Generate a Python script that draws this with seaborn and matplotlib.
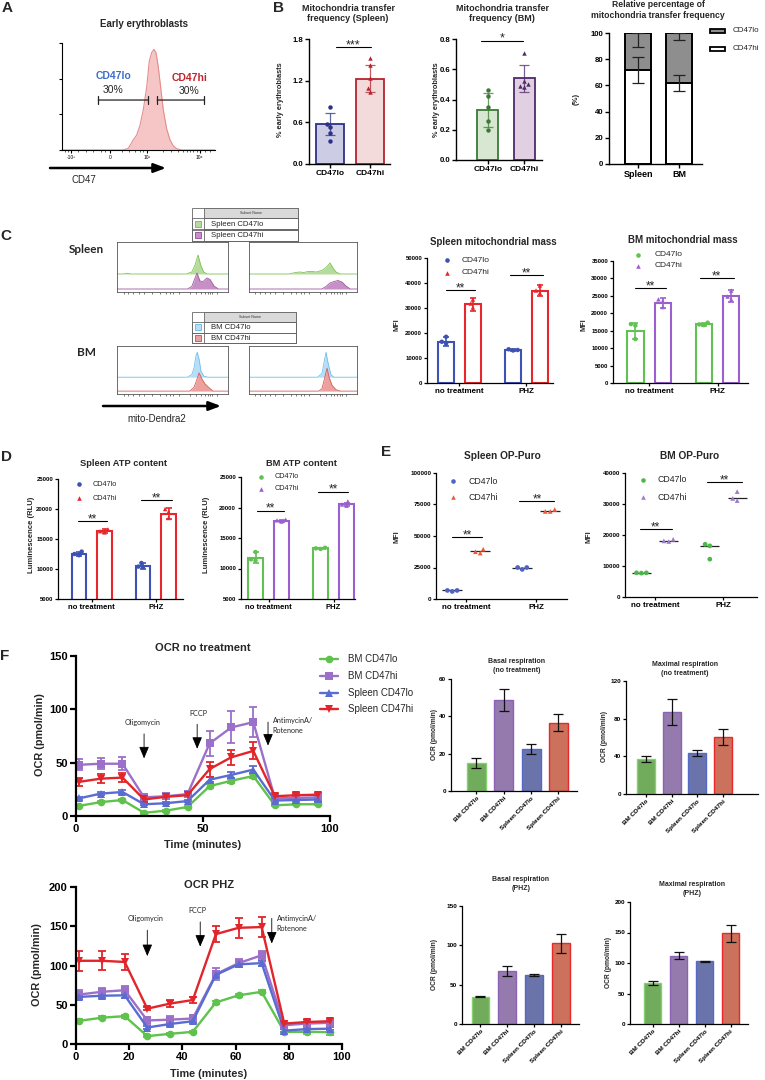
import numpy as np
import pandas as pd
import matplotlib
matplotlib.use("Agg")
import matplotlib.pyplot as plt
import seaborn as sns
from matplotlib.lines import Line2D
from matplotlib.patches import Rectangle

# ---------------- data ----------------
# A: CD47 histogram, flow channel (0-1024) vs % of max
a_chan = [0, 410, 444, 477, 500, 522, 544, 567, 584, 600, 615, 629, 644, 660, 678, 700, 723, 745, 767, 801, 1024]
a_dens = [0, 0, 1.6, 9.4, 14, 23, 37.5, 59, 83, 91, 94, 91, 78, 59, 37.5, 20, 9.4, 3.8, 1.2, 0, 0]
a_ticks = [60, 321, 569, 923]
a_tick_labels = ["-10³", "0", "10³", "10⁴"]

# B: mitochondria transfer frequency
levels = ["CD47lo", "CD47hi"]
b_sp_mean = [0.58, 1.23]
b_sp_sd = [0.16, 0.20]
b_sp_lo_pts = [0.82, 0.58, 0.53, 0.44, 0.33]
b_sp_hi_pts = [1.52, 1.42, 1.24, 1.10, 1.04]
b_bm_mean = [0.33, 0.54]
b_bm_sd = [0.11, 0.09]
b_bm_lo_pts = [0.46, 0.42, 0.35, 0.26, 0.20]
b_bm_hi_pts = [0.71, 0.52, 0.50, 0.49, 0.48]
b_tissues = ["Spleen", "BM"]
b_rel_hi = [72, 62]
b_rel_lo = [28, 38]
b_rel_hi_sd = [10, 6]
b_rel_lo_sd = [11, 5]

# C: mito-Dendra2 overlays (channel, fraction of box height above baseline)
sp_ch_lo_l = [0, 60, 90, 130, 640, 690, 720, 747, 775, 800, 830, 1024]
sp_d_lo_l = [0, 0, 0.015, 0, 0, 0.04, 0.18, 0.38, 0.16, 0.04, 0, 0]
sp_ch_hi_l = [0, 650, 690, 720, 738, 765, 793, 830, 858, 895, 935, 1024]
sp_d_hi_l = [0, 0, 0.05, 0.22, 0.32, 0.16, 0.15, 0.22, 0.19, 0.06, 0, 0]
sp_ch_lo_r = [0, 380, 440, 480, 520, 560, 600, 640, 700, 740, 768, 796, 825, 865, 1024]
sp_d_lo_r = [0, 0, 0.03, 0.04, 0.03, 0.05, 0.05, 0.04, 0.08, 0.15, 0.22, 0.12, 0.04, 0, 0]
sp_ch_hi_r = [0, 690, 730, 768, 806, 844, 882, 920, 960, 1024]
sp_d_hi_r = [0, 0, 0.05, 0.12, 0.15, 0.17, 0.14, 0.06, 0, 0]
bm_ch_lo_l = [0, 650, 692, 711, 729, 740, 757, 775, 803, 840, 1024]
bm_d_lo_l = [0, 0, 0.06, 0.2, 0.45, 0.52, 0.38, 0.12, 0.02, 0, 0]
bm_ch_hi_l = [0, 670, 711, 738, 757, 784, 812, 849, 886, 1024]
bm_d_hi_l = [0, 0, 0.08, 0.25, 0.38, 0.25, 0.15, 0.07, 0, 0]
bm_ch_lo_r = [0, 650, 692, 711, 730, 749, 777, 806, 1024]
bm_d_lo_r = [0, 0, 0.08, 0.3, 0.52, 0.3, 0.05, 0, 0]
bm_ch_hi_r = [0, 660, 692, 720, 740, 758, 787, 825, 865, 1024]
bm_d_hi_r = [0, 0, 0.05, 0.3, 0.48, 0.3, 0.12, 0.03, 0, 0]

treatments = ["no treatment", "PHZ"]
# C: mitochondrial mass (MFI)
c_sp_lo_mean = [16500, 13200]
c_sp_lo_sd = [1800, 400]
c_sp_lo_pts = [[18500, 16500, 15800], [13500, 13200, 13000]]
c_sp_hi_mean = [31500, 37000]
c_sp_hi_sd = [2500, 2200]
c_sp_hi_pts = [[33400, 31800, 30200], [39000, 37000, 36000]]
c_bm_lo_mean = [14800, 16800]
c_bm_lo_sd = [2300, 500]
c_bm_lo_pts = [[16900, 16500, 12600], [17300, 16800, 16600]]
c_bm_hi_mean = [23000, 25000]
c_bm_hi_sd = [1500, 1800]
c_bm_hi_pts = [[24000, 23500, 21800], [26500, 24800, 24000]]

# D: ATP content (RLU)
d_sp_lo_mean = [12500, 10500]
d_sp_lo_sd = [400, 500]
d_sp_lo_pts = [[12900, 12500, 12300], [11000, 10400, 10300]]
d_sp_hi_mean = [16300, 19200]
d_sp_hi_sd = [300, 900]
d_sp_hi_pts = [[16600, 16300, 16100], [20000, 19500, 18500]]
d_bm_lo_mean = [11800, 13300]
d_bm_lo_sd = [900, 100]
d_bm_lo_pts = [[12700, 11500, 11300], [13400, 13300, 13200]]
d_bm_hi_mean = [17800, 20500]
d_bm_hi_sd = [200, 300]
d_bm_hi_pts = [[18000, 17900, 17700], [21000, 20500, 20300]]

# E: OP-Puro (MFI)
e_sp_lo_pts = [[6000, 6800, 6800], [23500, 25000, 25000]]
e_sp_hi_pts = [[36500, 39500, 37500], [69500, 71000, 69500]]
e_sp_lo_med = [6800, 25000]
e_sp_hi_med = [37700, 69800]
e_bm_lo_pts = [[7700, 7800, 7800], [17000, 12200, 16500]]
e_bm_hi_pts = [[17900, 18600, 18100], [31100, 34000, 31800]]
e_bm_lo_med = [7800, 16500]
e_bm_hi_med = [18100, 31800]

# F: Seahorse OCR
f_groups = ["BM CD47lo", "BM CD47hi", "Spleen CD47lo", "Spleen CD47hi"]
f_time = [1.2, 9.7, 18.3, 26.8, 35.4, 43.9, 52.6, 61.1, 69.8, 78.3, 86.8, 95.4]
nt_bm_lo = [9.5, 13, 15, 3, 5, 8.5, 28, 33, 37.5, 10, 11, 11]
nt_bm_lo_err = [1, 1, 1, 1, 1, 1, 2, 2, 2, 1, 1, 1]
nt_bm_hi = [48, 49, 49, 17.5, 18.5, 20.5, 68, 83, 88, 16.5, 17, 17.5]
nt_bm_hi_err = [5, 5, 6, 3, 3, 3, 12, 15, 14, 3, 3, 3]
nt_sp_lo = [16.5, 21, 22.5, 11, 12, 14, 34, 38.5, 43.5, 14.5, 15, 15.5]
nt_sp_lo_err = [1.5, 1.5, 1.5, 1, 1, 1, 2.5, 3, 3, 1, 1, 1]
nt_sp_hi = [32, 35, 36, 15.5, 18, 19.5, 44, 55, 61, 18.5, 19.5, 20]
nt_sp_hi_err = [4, 4, 4, 2, 2, 2, 7, 7, 8, 2, 2, 2]
phz_bm_lo = [29.5, 33.5, 35.5, 10, 13, 15.5, 53, 62, 66.5, 15.5, 15.5, 15]
phz_bm_lo_err = [2, 2, 2, 1, 1, 1, 2, 2, 2, 3, 3, 3]
phz_bm_hi = [63, 66.5, 68.5, 30, 31, 32.5, 89, 103, 113, 24, 26, 27]
phz_bm_hi_err = [6, 5, 5, 5, 5, 5, 8, 5, 6, 4, 4, 4]
phz_sp_lo = [60, 61.5, 62, 21, 25.5, 29, 88, 101.5, 103, 17, 19, 19.5]
phz_sp_lo_err = [3, 3, 3, 2, 2, 2, 3, 3, 3, 2, 2, 2]
phz_sp_hi = [106, 106, 104.5, 45, 51.5, 56, 140, 148, 149, 26, 28, 29]
phz_sp_hi_err = [13, 12, 10, 2, 4, 4, 10, 13, 13, 3, 3, 3]

basal_nt = [15, 48.8, 22.5, 36.5]
basal_nt_sd = [2.5, 6, 2.5, 4.5]
max_nt = [37, 87, 43.5, 60.5]
max_nt_sd = [3, 14, 3.5, 8]
basal_phz = [34.7, 67.5, 62.5, 102.5]
basal_phz_sd = [1, 6, 1, 12]
max_phz = [66.7, 112, 103, 148.6]
max_phz_sd = [3, 6, 1, 13.5]

# ---------------- style ----------------
sns.set_theme(style="ticks")
plt.rcParams["font.family"] = ["Liberation Sans", "DejaVu Sans"]
plt.rcParams["axes.edgecolor"] = "black"

W, H = 765, 1080
fig = plt.figure(figsize=(W / 100, H / 100), dpi=100)


def box(l, t, r, b):
    return fig.add_axes([l / W, 1 - b / H, (r - l) / W, (b - t) / H])


def ftext(x, y, s, **kw):
    kw.setdefault("ha", "center")
    kw.setdefault("va", "center")
    return fig.text(x / W, 1 - y / H, s, **kw)


def frect(x, y, w, h, **kw):
    fig.add_artist(Rectangle((x / W, 1 - (y + h) / H), w / W, h / H, transform=fig.transFigure, **kw))


def fmark(x, y, **kw):
    fig.add_artist(Line2D([x / W], [1 - y / H], ls="none", transform=fig.transFigure, **kw))


def prism(ax, lw=0.8, ysize=4.3, xsize=4.3, tlen=2.5):
    sns.despine(ax=ax)
    ax.spines[["left", "bottom"]].set_linewidth(lw)
    ax.spines[["left", "bottom"]].set_color("black")
    ax.tick_params(width=lw, length=tlen, pad=1, colors="black")
    ax.tick_params(axis="y", labelsize=ysize)
    ax.tick_params(axis="x", labelsize=xsize)
    plt.setp(ax.get_xticklabels() + ax.get_yticklabels(), fontweight="bold")
    ax.set_xlabel("")
    ax.set_ylabel("")


def sig(ax, x0, x1, y, s="**", fs=8.5):
    ax.plot([x0, x1], [y, y], color="black", lw=0.8, clip_on=False)
    ax.annotate(s, ((x0 + x1) / 2, y), xytext=(0, -0.8), textcoords="offset points",
                ha="center", va="baseline", fontsize=fs, annotation_clip=False)


def fig_arrow(x0, x1, y):
    fig.axes[0].annotate("", xy=(x1, H - y), xytext=(x0, H - y), xycoords="figure pixels",
                         arrowprops=dict(arrowstyle="-|>,head_width=0.3,head_length=0.8", lw=1.8,
                                         color="black", shrinkA=0, shrinkB=0, mutation_scale=9),
                         annotation_clip=False)


def points_frame(lo_pts, hi_pts):
    rows = []
    for lev, pts in zip(levels, [lo_pts, hi_pts]):
        for cond, vals in zip(treatments, pts):
            rows += [(cond, lev, v) for v in vals]
    return pd.DataFrame(rows, columns=["cond", "grp", "val"])


# ---------------- panel letters ----------------
for lab, x, y in [("A", 7, 8), ("B", 278, 8), ("C", 6, 236), ("D", 6, 457), ("E", 386, 452), ("F", 5, 656)]:
    ftext(x, y, lab, fontsize=11, fontweight="bold")

# ---------------- A ----------------
ax = box(62, 43, 215, 150)
ax.fill_between(a_chan, a_dens, color="#f6c6c6", lw=0)
sns.lineplot(x=a_chan, y=a_dens, color="#e38d8d", lw=0.8, ax=ax)
ax.set_xlim(0, 1024)
ax.set_ylim(0, 100)
ax.set_yticks([0, 33.3, 66.7, 100], [])
ax.set_xticks(a_ticks, a_tick_labels)
ax.set_xticks([20, 40, 110, 160, 210, 260, 290, 400, 450, 490, 520, 545,
               675, 731, 775, 809, 837, 859, 879, 905, 960, 990], minor=True)
prism(ax, lw=0.8, xsize=3.5, tlen=2.5)
plt.setp(ax.get_xticklabels(), fontweight="normal")
ax.tick_params(axis="x", which="minor", length=1.2, width=0.5)
for x0, x1 in [(243, 577), (637, 950)]:
    ax.annotate("", xy=(x1, 46.7), xytext=(x0, 46.7),
                arrowprops=dict(arrowstyle="|-|,widthA=0.25,widthB=0.25", lw=0.9, color="#222",
                                shrinkA=0, shrinkB=0))
ax.text(343, 69, "CD47lo", color="#3f6fc6", fontsize=7.5, fontweight="bold", ha="center", va="center")
ax.text(339, 56.5, "30%", fontsize=7.5, ha="center", va="center")
ax.text(852, 67, "CD47hi", color="#c0262e", fontsize=7.5, fontweight="bold", ha="center", va="center")
ax.text(852, 55, "30%", fontsize=7.5, ha="center", va="center")
ftext(144, 24, "Early erythroblasts", fontsize=7, fontweight="bold")
fig_arrow(50, 166, 168)
ftext(84, 180, "CD47", fontsize=7)


# ---------------- B ----------------
def freq_panel(l, t, r, b, xlim, width, mean, sd, lo_pts, hi_pts, fills, edges, ylim, yticks):
    ax = box(l, t, r, b)
    sns.barplot(x=levels, y=mean, hue=levels, palette=fills, width=width, errorbar=None,
                legend=False, linewidth=1.3, ax=ax)
    for p, ec in zip(ax.patches, edges):
        p.set_edgecolor(ec)
    for i in range(2):
        ax.errorbar(i, mean[i], yerr=sd[i], fmt="none", ecolor=edges[i], alpha=0.75,
                    elinewidth=0.9, capsize=3.5, capthick=0.9)
    pts = pd.DataFrame({"grp": ["CD47lo"] * len(lo_pts) + ["CD47hi"] * len(hi_pts), "val": lo_pts + hi_pts})
    for lev, mk, col in zip(levels, ["o", "^"], edges):
        sns.swarmplot(data=pts[pts.grp == lev], x="grp", y="val", order=levels, color=col,
                      marker=mk, size=3.2, linewidth=0, ax=ax)
    ax.set_xlim(xlim)
    ax.set_ylim(ylim)
    ax.set_yticks(yticks, [f"{v:.1f}" for v in yticks])
    prism(ax, lw=1.0, ysize=5.6, xsize=6, tlen=3)
    return ax


ax = freq_panel(309, 39, 390, 164, (-0.525, 1.5), 0.7, b_sp_mean, b_sp_sd, b_sp_lo_pts, b_sp_hi_pts,
                ["#c8c9e8", "#f8d7d7"], ["#2d3187", "#b3242f"], (0, 1.8), [0, 0.6, 1.2, 1.8])
sig(ax, 0.15, 1.02, 1.68, "***", fs=9)
ftext(348, 13.5, "Mitochondria transfer\nfrequency (Spleen)", fontsize=6.5, fontweight="bold", linespacing=1.2)
ftext(280, 100, "% early erythroblasts", rotation=90, fontsize=5.3, fontweight="bold")

ax = freq_panel(456, 39, 542, 160, (-0.88, 1.49), 0.58, b_bm_mean, b_bm_sd, b_bm_lo_pts, b_bm_hi_pts,
                ["#d5ebcd", "#e3cde4"], ["#3c7a34", "#4f2a6c"], (0, 0.8), [0, 0.2, 0.4, 0.6, 0.8])
sig(ax, -0.2, 0.97, 0.79, "*", fs=9)
ftext(502, 13.5, "Mitochondria transfer\nfrequency (BM)", fontsize=6.5, fontweight="bold", linespacing=1.2)
ftext(436, 100, "% early erythroblasts", rotation=90, fontsize=5.3, fontweight="bold")

ax = box(609, 33, 702, 164)
sns.barplot(x=b_tissues, y=[h + l for h, l in zip(b_rel_hi, b_rel_lo)], color="#8e8e8e", width=0.63,
            edgecolor="black", linewidth=1.4, errorbar=None, ax=ax)
sns.barplot(x=b_tissues, y=b_rel_hi, color="white", width=0.63, edgecolor="black", linewidth=1.4,
            errorbar=None, ax=ax)
for i in range(2):
    ax.errorbar(i, b_rel_hi[i], yerr=b_rel_hi_sd[i], fmt="none", ecolor="#222", elinewidth=0.9,
                capsize=4.5, capthick=0.9)
    ax.errorbar(i, b_rel_hi[i] + b_rel_lo[i], yerr=[[b_rel_lo_sd[i]], [0]], fmt="none", ecolor="#222",
                elinewidth=0.9, capsize=4.5, capthick=0.9)
ax.set_xlim(-0.71, 1.56)
ax.set_ylim(0, 100)
ax.set_yticks([0, 20, 40, 60, 80, 100], ["0", "20", "40", "60", "80", "100"])
prism(ax, lw=1.0, ysize=5.6, xsize=6.5, tlen=3)
ftext(658, 10, "Relative percentage of\nmitochondria transfer frequency", fontsize=6.2, fontweight="bold",
      linespacing=1.25)
ftext(576, 99, "(%)", rotation=90, fontsize=5.5, fontweight="bold")
frect(710, 29, 15, 4, fc="#8e8e8e", ec="black", lw=1.3)
frect(710, 47, 15, 4, fc="white", ec="black", lw=1.3)
ftext(733, 31, "CD47lo", ha="left", fontsize=5.8)
ftext(733, 49, "CD47hi", ha="left", fontsize=5.8)


# ---------------- C: flow overlays ----------------
def flow_box(l, t, r, b, top, bot, base_top, top_cols, bot_cols):
    ax = box(l, t, r, b)
    for (ch, d), base, (fc, ec) in [(top, base_top, top_cols), (bot, 0.06, bot_cols)]:
        yv = np.asarray(d) + base
        ax.fill_between(ch, base, yv, color=fc, lw=0)
        sns.lineplot(x=ch, y=yv, color=ec, lw=0.6, ax=ax)
    ax.set_xlim(0, 1024)
    ax.set_ylim(0, 1)
    ax.set_yticks([])
    ax.set_xticks(a_ticks, [])
    ax.set_xticks([100, 150, 200, 250, 400, 450, 490, 520, 675, 731, 775, 809, 837, 859, 879], minor=True)
    ax.tick_params(axis="x", which="both", length=1.5, width=0.5, colors="#444")
    for s in ax.spines.values():
        s.set_linewidth(0.6)
        s.set_color("#555")
    ax.set_xlabel("")
    ax.set_ylabel("")


green_h = ("#b5dc9c", "#7fc257")
purple_h = ("#c690c6", "#9f56a0")
blue_h = ("#b7def6", "#6fc0ec")
red_h = ("#eda19e", "#d65d59")
flow_box(117, 242, 228, 292, (sp_ch_lo_l, sp_d_lo_l), (sp_ch_hi_l, sp_d_hi_l), 0.36, green_h, purple_h)
flow_box(249, 242, 357, 292, (sp_ch_lo_r, sp_d_lo_r), (sp_ch_hi_r, sp_d_hi_r), 0.36, green_h, purple_h)
flow_box(117, 346, 228, 394, (bm_ch_lo_l, bm_d_lo_l), (bm_ch_hi_l, bm_d_hi_l), 0.35, blue_h, red_h)
flow_box(249, 346, 357, 394, (bm_ch_lo_r, bm_d_lo_r), (bm_ch_hi_r, bm_d_hi_r), 0.35, blue_h, red_h)


def subset_table(x0, y0, x1, y1, labels, swatches):
    frect(x0, y0, x1 - x0, y1 - y0, fc="white", ec="#666", lw=0.6)
    frect(x0 + 12, y0, x1 - x0 - 12, 10, fc="#d9d9d9", ec="#666", lw=0.6)
    ftext((x0 + 12 + x1) / 2, y0 + 5, "Subset Name", fontsize=2.6, color="#333")
    row_h = (y1 - y0 - 10) / 2
    for i, (lab, (fc, ec)) in enumerate(zip(labels, swatches)):
        ry = y0 + 10 + i * row_h
        frect(x0, ry, x1 - x0, row_h, fc="none", ec="#666", lw=0.6)
        frect(x0 + 12, ry, x1 - x0 - 12, row_h, fc="none", ec="#666", lw=0.6)
        frect(x0 + 3, ry + row_h / 2 - 3, 6, 6, fc=fc, ec=ec, lw=0.7)
        ftext(x0 + 19, ry + row_h / 2 + 0.5, lab, ha="left", fontsize=5.6)


subset_table(192, 208, 298, 241, ["Spleen CD47lo", "Spleen CD47hi"], [green_h, purple_h])
subset_table(192, 312, 296, 343, ["BM CD47lo", "BM CD47hi"], [blue_h, red_h])
ftext(86, 249, "Spleen", fontsize=8.5, fontweight="bold", family=["Lato", "DejaVu Sans"])
ftext(86, 352, "BM", fontsize=8.5, fontweight="bold", family=["Lato", "DejaVu Sans"])
fig_arrow(103, 221, 406)
ftext(157, 419, "mito-Dendra2", fontsize=7)


# ---------------- C/D: grouped open bars ----------------
def grouped_bar(l, t, r, b, xlim, ylim, yticks, cols, lo_mean, lo_sd, lo_pts, hi_mean, hi_sd, hi_pts,
                gap=0.4, xsize=5.8):
    ax = box(l, t, r, b)
    pal = dict(zip(levels, cols))
    bars = pd.DataFrame({"cond": treatments * 2, "grp": np.repeat(levels, 2), "val": lo_mean + hi_mean})
    sns.barplot(data=bars, x="cond", y="val", hue="grp", order=treatments, hue_order=levels, palette=pal,
                fill=False, width=0.8, gap=gap, linewidth=1.5, errorbar=None, legend=False, ax=ax)
    for k, (m, s) in enumerate([(lo_mean, lo_sd), (hi_mean, hi_sd)]):
        ax.errorbar(np.arange(2) + (k - 0.5) * 0.4, m, yerr=s, fmt="none", ecolor=cols[k],
                    elinewidth=1.2, capsize=2.5, capthick=1.2)
    pts = points_frame(lo_pts, hi_pts)
    for lev, mk in zip(levels, ["o", "^"]):
        sns.swarmplot(data=pts[pts.grp == lev], x="cond", y="val", hue="grp", order=treatments,
                      hue_order=levels, palette=pal, dodge=True, marker=mk, size=3.2, linewidth=0,
                      legend=False, ax=ax)
    ax.set_xlim(xlim)
    ax.set_ylim(ylim)
    ax.set_yticks(yticks, [str(v) for v in yticks])
    prism(ax, lw=0.9, ysize=4.3, xsize=xsize)
    return ax


def marker_legend(xm, xt, ys, cols, fs):
    for lab, col, mk, y in zip(levels, cols, ["o", "^"], ys):
        fmark(xm, y, marker=mk, color=col, ms=3.3, mew=0)
        ftext(xt, y, lab, ha="left", fontsize=fs)


blue, red, green, purple = "#3e52b4", "#e8262b", "#62c153", "#9c5fd0"

ax = grouped_bar(427, 258, 553, 383, (-0.485, 1.396), (0, 50000), list(range(0, 50001, 10000)),
                 [blue, red], c_sp_lo_mean, c_sp_lo_sd, c_sp_lo_pts, c_sp_hi_mean, c_sp_hi_sd, c_sp_hi_pts)
sig(ax, -0.2, 0.23, 37200)
sig(ax, 0.76, 1.25, 43200)
ftext(493, 242, "Spleen mitochondrial mass", fontsize=7, fontweight="bold")
ftext(397, 325, "MFI", rotation=90, fontsize=5.3, fontweight="bold")
marker_legend(447, 462, [260, 273], [blue, red], 6)

ax = grouped_bar(613, 261, 748, 383, (-0.526, 1.445), (0, 35000), list(range(0, 35001, 5000)),
                 [green, purple], c_bm_lo_mean, c_bm_lo_sd, c_bm_lo_pts, c_bm_hi_mean, c_bm_hi_sd, c_bm_hi_pts)
sig(ax, -0.2, 0.25, 27250)
sig(ax, 0.74, 1.24, 30100)
ftext(683, 240, "BM mitochondrial mass", fontsize=7, fontweight="bold")
ftext(584, 325, "MFI", rotation=90, fontsize=5.3, fontweight="bold")
marker_legend(638, 655, [255, 266], [green, purple], 6)

ax = grouped_bar(58, 479, 183, 599, (-0.527, 1.426), (5000, 25000), list(range(5000, 25001, 5000)),
                 [blue, red], d_sp_lo_mean, d_sp_lo_sd, d_sp_lo_pts, d_sp_hi_mean, d_sp_hi_sd, d_sp_hi_pts,
                 gap=0.43, xsize=5.5)
sig(ax, -0.21, 0.24, 18000)
sig(ax, 0.77, 1.25, 21500)
ftext(124, 463, "Spleen ATP content", fontsize=6.7, fontweight="bold")
ftext(32, 535, "Luminescence (RLU)", rotation=90, fontsize=5.5, fontweight="bold")
marker_legend(79, 93, [484, 498], [blue, red], 5.2)

ax = grouped_bar(241, 477, 355, 599, (-0.423, 1.33), (5000, 25000), list(range(5000, 25001, 5000)),
                 [green, purple], d_bm_lo_mean, d_bm_lo_sd, d_bm_lo_pts, d_bm_hi_mean, d_bm_hi_sd, d_bm_hi_pts,
                 gap=0.43, xsize=5.5)
sig(ax, -0.18, 0.24, 19500)
sig(ax, 0.76, 1.22, 22600)
ftext(301, 463, "BM ATP content", fontsize=6.7, fontweight="bold")
ftext(206, 535, "Luminescence (RLU)", rotation=90, fontsize=5.5, fontweight="bold")
marker_legend(261, 275, [477, 489], [green, purple], 5.2)


# ---------------- E: dot plots ----------------
def dot_panel(l, t, r, b, xlim, ylim, yticks, cols, lo_pts, hi_pts, lo_med, hi_med):
    ax = box(l, t, r, b)
    pal = dict(zip(levels, cols))
    for k, med in enumerate([lo_med, hi_med]):
        pos = np.arange(2) + (k - 0.5) * 0.4
        ax.hlines(med, pos - 0.14, pos + 0.14, color="#222", lw=0.9)
    pts = points_frame(lo_pts, hi_pts)
    for lev, mk in zip(levels, ["o", "^"]):
        sns.swarmplot(data=pts[pts.grp == lev], x="cond", y="val", hue="grp", order=treatments,
                      hue_order=levels, palette=pal, dodge=True, marker=mk, size=3.4, linewidth=0,
                      legend=False, ax=ax)
    ax.set_xlim(xlim)
    ax.set_ylim(ylim)
    ax.set_yticks(yticks, [str(v) for v in yticks])
    prism(ax, lw=0.9, ysize=4.5, xsize=5.8)
    return ax


e_blue, e_red, e_green, e_purple = "#5063c4", "#ec5a3c", "#4cb84a", "#9c7ccd"
ax = dot_panel(436, 473, 567, 599, (-0.432, 1.44), (0, 100000), [0, 25000, 50000, 75000, 100000],
               [e_blue, e_red], e_sp_lo_pts, e_sp_hi_pts, e_sp_lo_med, e_sp_hi_med)
sig(ax, -0.2, 0.23, 49200)
sig(ax, 0.76, 1.26, 77800)
ftext(502, 456, "Spleen OP-Puro", fontsize=7.3, fontweight="bold")
ftext(397, 537, "MFI", rotation=90, fontsize=5.3, fontweight="bold")
marker_legend(453, 468, [481, 497], [e_blue, e_red], 6.3)

ax = dot_panel(625, 473, 757, 597, (-0.44, 1.49), (0, 40000), [0, 10000, 20000, 30000, 40000],
               [e_green, e_purple], e_bm_lo_pts, e_bm_hi_pts, e_bm_lo_med, e_bm_hi_med)
sig(ax, -0.22, 0.24, 21900)
sig(ax, 0.76, 1.27, 37100)
ftext(690, 456, "BM OP-Puro", fontsize=7.3, fontweight="bold")
ftext(589, 537, "MFI", rotation=90, fontsize=5.3, fontweight="bold")
marker_legend(643, 658, [480, 497], [e_green, e_purple], 6.3)

# ---------------- F: OCR traces ----------------
f_cols = ["#5ec24c", "#9b70c8", "#5a6cd2", "#e2252a"]
f_marks = ["o", "s", "^", "v"]


def ocr_panel(l, t, r, b, ylim, yticks, xticks, series, errs, arrows):
    ax = box(l, t, r, b)
    df = pd.DataFrame({"t": f_time * 4, "v": sum(series, []), "g": np.repeat(f_groups, len(f_time))})
    for g, s, e, c in zip(f_groups, series, errs, f_cols):
        ax.errorbar(f_time, s, yerr=e, fmt="none", ecolor=c, elinewidth=1.3, capsize=3, capthick=1.3)
    sns.lineplot(data=df, x="t", y="v", hue="g", style="g", hue_order=f_groups, style_order=f_groups,
                 palette=dict(zip(f_groups, f_cols)), markers=dict(zip(f_groups, f_marks)), dashes=False,
                 lw=1.7, markersize=5.5, markeredgewidth=0, errorbar=None, legend=False, ax=ax)
    ax.set_xlim(0, xticks[-1])
    ax.set_ylim(ylim)
    ax.set_xticks(xticks, [str(v) for v in xticks])
    ax.set_yticks(yticks, [str(v) for v in yticks])
    prism(ax, lw=1.6, ysize=8, xsize=8, tlen=4)
    ax.tick_params(pad=2)
    for (tx, ty, txt, ha, ax_x, y0, y1) in arrows:
        ax.text(tx, ty, txt, ha=ha, va="center", fontsize=5.2, family=["Lato", "DejaVu Sans"],
                linespacing=1.5)
        ax.annotate("", xy=(ax_x, y1), xytext=(ax_x, y0),
                    arrowprops=dict(arrowstyle="-|>,head_width=0.38,head_length=0.9", lw=0.6, color="black",
                                    shrinkA=0, shrinkB=0, mutation_scale=8))
    return ax


ocr_panel(76, 656, 330, 816, (0, 150), [0, 50, 100, 150], [0, 50, 100],
          [nt_bm_lo, nt_bm_hi, nt_sp_lo, nt_sp_hi], [nt_bm_lo_err, nt_bm_hi_err, nt_sp_lo_err, nt_sp_hi_err],
          [(26.4, 88, "Oligomycin", "center", 26.8, 77, 54),
           (48, 96, "FCCP", "center", 47.7, 86, 63),
           (77.5, 84.5, "AntimycinA/\nRotenone", "left", 75.6, 88, 66)])
ftext(203, 648, "OCR no treatment", fontsize=8, fontweight="bold")
ftext(203, 845, "Time (minutes)", fontsize=7.8, fontweight="bold")
ftext(40, 735, "OCR (pmol/min)", rotation=90, fontsize=7.8, fontweight="bold")
for lab, col, mk, y in zip(f_groups, f_cols, f_marks, [659, 676, 693, 709]):
    fig.add_artist(Line2D([320 / W, 338 / W], [1 - y / H] * 2, color=col, lw=1.7, transform=fig.transFigure))
    fmark(329, y, marker=mk, color=col, ms=5.5, mew=0)
    ftext(348, y, lab, ha="left", fontsize=7)

ocr_panel(76, 887, 342, 1044, (0, 200), [0, 50, 100, 150, 200], [0, 20, 40, 60, 80, 100],
          [phz_bm_lo, phz_bm_hi, phz_sp_lo, phz_sp_hi],
          [phz_bm_lo_err, phz_bm_hi_err, phz_sp_lo_err, phz_sp_hi_err],
          [(26.2, 160, "Oligomycin", "center", 26.8, 145, 112),
           (45.8, 169.5, "FCCP", "center", 46.7, 155.5, 124),
           (75.5, 154, "AntimycinA/\nRotenone", "left", 73.6, 160, 128)])
ftext(209, 885, "OCR PHZ", fontsize=8, fontweight="bold")
ftext(209, 1074, "Time (minutes)", fontsize=7.8, fontweight="bold")
ftext(37, 965, "OCR (pmol/min)", rotation=90, fontsize=7.8, fontweight="bold")

# ---------------- F: respiration bars ----------------
f_fill = ["#6bb94f", "#9672b5", "#5f6cb6", "#de6549"]
f_edge = ["#88cf73", "#8c62b4", "#5468c6", "#e8282a"]


def resp_bars(l, t, r, b, xlim, width, ylim, yticks, means, sds, title, tx, ty, lx, ly):
    ax = box(l, t, r, b)
    sns.barplot(x=f_groups, y=means, hue=f_groups, palette=f_fill, width=width, errorbar=None,
                legend=False, linewidth=1.0, ax=ax)
    for p, ec in zip(ax.patches, f_edge):
        p.set_edgecolor(ec)
    ax.errorbar(range(4), means, yerr=sds, fmt="none", ecolor="#111", elinewidth=0.9, capsize=3.5,
                capthick=0.9)
    ax.set_xlim(xlim)
    ax.set_ylim(ylim)
    ax.set_yticks(yticks, [str(v) for v in yticks])
    prism(ax, lw=0.9, ysize=4.6, xsize=4.6, tlen=2.5)
    plt.setp(ax.get_xticklabels(), rotation=45, ha="right", rotation_mode="anchor")
    ftext(tx, ty, title, fontsize=5, fontweight="bold", linespacing=1.3)
    ftext(lx, ly, "OCR (pmol/min)", rotation=90, fontsize=4.8, fontweight="bold")
    return ax


resp_bars(451, 679, 577, 791, (-0.93, 3.68), 0.7, (0, 60), [0, 20, 40, 60], basal_nt, basal_nt_sd,
          "Basal respiration\n(no treatment)", 517, 666, 434, 735)
resp_bars(626, 681, 758, 794, (-0.78, 4.36), 0.7, (0, 120), [0, 40, 80, 120], max_nt, max_nt_sd,
          "Maximal respiration\n(no treatment)", 685, 669, 604, 737)
resp_bars(462, 906, 579, 1024, (-0.69, 3.68), 0.67, (0, 150), [0, 50, 100, 150], basal_phz, basal_phz_sd,
          "Basal respiration\n(PHZ)", 521, 884, 435, 965)
resp_bars(630, 902, 748, 1024, (-0.87, 3.67), 0.65, (0, 200), [0, 50, 100, 150, 200], max_phz, max_phz_sd,
          "Maximal respiration\n(PHZ)", 692, 889, 608, 963)

fig.savefig("out.png", dpi=100)
